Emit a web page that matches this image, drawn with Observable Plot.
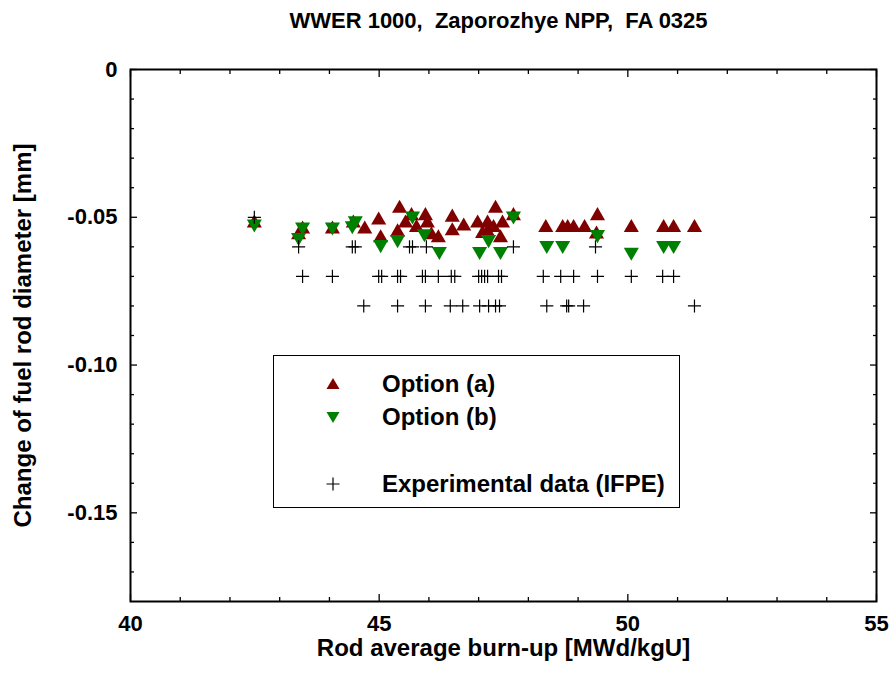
<!DOCTYPE html>
<html>
<head>
<meta charset="utf-8">
<script src="https://cdn.jsdelivr.net/npm/d3@7"></script>
<script src="https://cdn.jsdelivr.net/npm/@observablehq/plot@0.6"></script>
<style>
  body { margin: 0; background: #fff; font-family: "Liberation Sans", Arial, sans-serif; }
  #wrap { position: relative; width: 894px; height: 690px; }
  #legend { position: absolute; left: 273px; top: 355px; width: 405px; height: 151px; border: 1px solid #000; background: #fff; }
  .sym { position: absolute; left: 50px; width: 18px; height: 18px; }
  .lab { position: absolute; left: 108px; font-weight: bold; font-size: 24px; line-height: 28px; white-space: pre; color: #000; }
</style>
</head>
<body>
<div id="wrap"></div>
<script>
// ---- data ----
const titleText = "WWER 1000,\u00a0 Zaporozhye NPP,\u00a0 FA 0325";
const xLabel = "Rod average burn-up [MWd/kgU]";
const yLabel = "Change of fuel rod diameter [mm]";
const seriesNames = ["Option (a)", "Option (b)", "Experimental data (IFPE)"];

const xTicks = [40, 45, 50, 55];
const yTicks = [0, -0.05, -0.10, -0.15];
const yTickLabels = ["0", "-0.05", "-0.10", "-0.15"];

const optionA_burnup = [42.49, 43.38, 43.46, 44.06, 44.48, 44.71, 44.99, 45.03, 45.37, 45.41,
  45.53, 45.65, 45.75, 45.93, 45.97, 46.05, 46.19, 46.47, 46.47, 46.70,
  46.98, 47.08, 47.18, 47.18, 47.30, 47.34, 47.44, 47.48, 47.70, 48.35,
  48.69, 48.79, 48.91, 49.13, 49.37, 49.39, 50.07, 50.72, 50.92, 51.34];
const optionA_change = [-0.052, -0.056, -0.054, -0.054, -0.052, -0.054, -0.051, -0.057, -0.055, -0.047,
  -0.052, -0.0495, -0.0535, -0.0495, -0.052, -0.056, -0.057, -0.050, -0.0546, -0.053,
  -0.052, -0.0555, -0.052, -0.055, -0.0535, -0.047, -0.057, -0.052, -0.0495, -0.0535,
  -0.0535, -0.0535, -0.0535, -0.0535, -0.0557, -0.0495, -0.0535, -0.0535, -0.0535, -0.0535];

const optionB_burnup = [42.49, 43.38, 43.46, 44.06, 44.46, 44.52, 45.03, 45.37, 45.67, 45.91,
  46.21, 47.02, 47.20, 47.44, 47.70, 48.37, 48.69, 49.39, 50.07, 50.72, 50.92];
const optionB_change = [-0.0522, -0.0568, -0.0532, -0.0532, -0.0528, -0.0511, -0.0592, -0.0575, -0.0495, -0.0555,
  -0.0615, -0.0615, -0.0575, -0.0615, -0.0495, -0.0595, -0.0595, -0.0558, -0.0618, -0.0595, -0.0595];

const exp_burnup = [42.49,
  43.38, 44.46, 44.52, 45.61, 45.67, 45.95, 47.70, 49.35,
  43.46, 44.06, 44.99, 45.05, 45.37, 45.43, 45.87, 45.93, 46.19, 46.45, 46.52, 47.00,
  47.06, 47.12, 47.18, 47.40, 47.46, 48.30, 48.65, 48.91, 49.39, 50.07, 50.70, 50.92,
  44.69, 45.37, 45.93, 46.43, 46.68, 47.02, 47.20, 47.34, 47.42, 48.37, 48.77, 48.81, 49.11, 51.34];
const exp_change = [-0.05,
  -0.06, -0.06, -0.06, -0.06, -0.06, -0.06, -0.06, -0.06,
  -0.07, -0.07, -0.07, -0.07, -0.07, -0.07, -0.07, -0.07, -0.07, -0.07, -0.07, -0.07,
  -0.07, -0.07, -0.07, -0.07, -0.07, -0.07, -0.07, -0.07, -0.07, -0.07, -0.07, -0.07,
  -0.08, -0.08, -0.08, -0.08, -0.08, -0.08, -0.08, -0.08, -0.08, -0.08, -0.08, -0.08, -0.08, -0.08];

const colorA = "#800000";
const colorB = "#008000";

// ---- build tables ----
const dataA = optionA_burnup.map((b, i) => ({b, d: optionA_change[i]}));
const dataB = optionB_burnup.map((b, i) => ({b, d: optionB_change[i]}));
const dataE = exp_burnup.map((b, i) => ({b, d: exp_change[i]}));

const xMinor = d3.range(41, 55).filter(v => v % 5 !== 0);
const yMinor = d3.range(1, 18).filter(i => i % 5 !== 0).map(i => -i / 100);
const yFmt = d => yTickLabels[yTicks.findIndex(t => Math.abs(t - d) < 1e-9)];

const tickAxes = [];
for (const anchor of ["bottom", "top"]) {
  tickAxes.push(Plot.axisX(xTicks, {anchor, tickSize: -7, fill: "none", label: null, strokeWidth: 1.3}));
  tickAxes.push(Plot.axisX(xMinor, {anchor, tickSize: -4, fill: "none", label: null, strokeWidth: 1.3}));
}
for (const anchor of ["left", "right"]) {
  tickAxes.push(Plot.axisY(yTicks, {anchor, tickSize: -7, fill: "none", label: null, strokeWidth: 1.3}));
  tickAxes.push(Plot.axisY(yMinor, {anchor, tickSize: -4, fill: "none", label: null, strokeWidth: 1.3}));
}

const chart = Plot.plot({
  width: 894,
  height: 690,
  marginLeft: 130,
  marginRight: 18,
  marginTop: 69,
  marginBottom: 89,
  x: {domain: [40, 55]},
  y: {domain: [-0.18, 0]},
  style: {fontFamily: "Liberation Sans, Arial, sans-serif", fontWeight: "bold", fontSize: "22px", color: "#000", background: "#fff"},
  marks: [
    Plot.dot(dataA, {x: "b", y: "d", symbol: "triangle", r: 5.6, fill: colorA}),
    Plot.dot(dataB, {x: "b", y: "d", symbol: "triangle", rotate: 180, r: 5.6, fill: colorB}),
    Plot.dot(dataE, {x: "b", y: "d", symbol: "plus", r: 4.3, stroke: "#000", strokeWidth: 1.2}),
    ...tickAxes,
    Plot.frame({stroke: "#000", strokeWidth: 2}),
    Plot.axisX(xTicks, {anchor: "bottom", tickSize: 0, tickPadding: 14, fontSize: 22, fontWeight: "bold", label: null}),
    Plot.axisY(yTicks, {anchor: "left", tickSize: 0, tickPadding: 13, fontSize: 22, fontWeight: "bold", tickFormat: yFmt, label: null}),
    Plot.text([xLabel], {frameAnchor: "bottom", dy: 47, fontSize: 24, fontWeight: "bold", lineAnchor: "middle"}),
    Plot.text([yLabel], {frameAnchor: "left", dx: -107, rotate: -90, textAnchor: "middle", fontSize: 24, fontWeight: "bold", lineAnchor: "middle"}),
    Plot.text([titleText], {frameAnchor: "top", dy: -49, dx: -5, fontSize: 22, fontWeight: "bold", lineAnchor: "middle"})
  ]
});

const wrap = document.getElementById("wrap");
wrap.appendChild(chart);

// ---- legend box inside the plot area ----
const legend = document.createElement("div");
legend.id = "legend";
const rows = [
  {name: seriesNames[0], y: 28, svg: `<polygon points="9,3 15.5,14 2.5,14" fill="${colorA}"/>`},
  {name: seriesNames[1], y: 61, svg: `<polygon points="2.5,4 15.5,4 9,15" fill="${colorB}"/>`},
  {name: seriesNames[2], y: 128, svg: `<path d="M9,2.5V15.5M2.5,9H15.5" stroke="#000" stroke-width="1.2" fill="none"/>`}
];
for (const r of rows) {
  const s = document.createElement("div");
  s.className = "sym";
  s.style.top = (r.y - 9) + "px";
  s.innerHTML = `<svg width="18" height="18" viewBox="0 0 18 18">${r.svg}</svg>`;
  legend.appendChild(s);
  const t = document.createElement("div");
  t.className = "lab";
  t.style.top = (r.y - 14) + "px";
  t.textContent = r.name;
  legend.appendChild(t);
}
wrap.appendChild(legend);
</script>
</body>
</html>
